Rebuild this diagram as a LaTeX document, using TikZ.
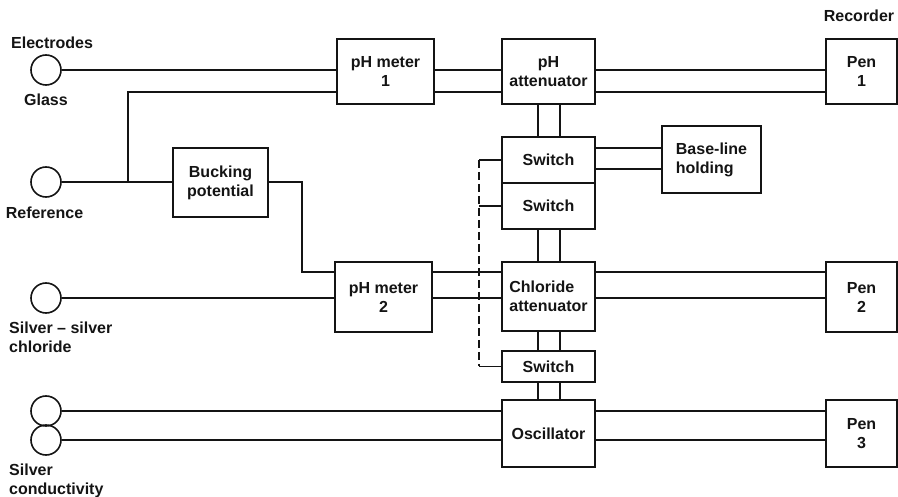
\documentclass[tikz,border=0pt]{standalone}
\usepackage{fontspec}
\setmainfont{Liberation Sans}
\usetikzlibrary{positioning}
\tikzstyle{diagram} = [x = 1pt, y = -1pt]
\definecolor{inkColor}{RGB}{20,20,20}
\tikzstyle{boxStyle} = [draw=inkColor, line width=1.8pt, inner sep=0pt, align=center, text=inkColor, font=\fontsize{16}{19}\selectfont\bfseries]
\tikzstyle{wireLine} = [color=inkColor, line width=1.4pt]
\tikzstyle{gangLine} = [wireLine, dash pattern=on 8pt off 4pt]
\tikzstyle{electrodeStyle} = [circle, draw=inkColor, line width=1.6pt, minimum size=30pt, inner sep=0pt]
\tikzstyle{labelText} = [text=inkColor, inner sep=0pt, align=left, font=\fontsize{16}{19}\selectfont\bfseries]
\newcommand{\unitBox}[6]{\node [boxStyle, minimum width=#4pt, minimum height=#5pt] (#1) at (#2,#3) {#6};}
\newcommand{\wirePair}[4]{\draw [wireLine] (#1.east |- #3) -- (#2.west |- #3); \draw [wireLine] (#1.east |- #4) -- (#2.west |- #4);}
\newcommand{\linkPair}[2]{\draw [wireLine] (#1.south -| colA) -- (#2.north -| colA); \draw [wireLine] (#1.south -| colB) -- (#2.north -| colB);}
\begin{document}
\begin{tikzpicture}[diagram]
\useasboundingbox (0,0) rectangle (898,497);
% wire rows and columns
\coordinate (rowA) at (0,70);
\coordinate (rowB) at (0,92);
\coordinate (rowC) at (0,148);
\coordinate (rowD) at (0,169);
\coordinate (rowF) at (0,272);
\coordinate (rowG) at (0,298);
\coordinate (rowH) at (0,411);
\coordinate (rowI) at (0,440);
\coordinate (colA) at (538,0);
\coordinate (colB) at (560,0);
% electrodes
\node [electrodeStyle] (glass) at (46,70) {};
\node [electrodeStyle] (reference) at (46,182) {};
\node [electrodeStyle] (silverChloride) at (46,298) {};
\node [electrodeStyle] (condOne) at (46,411) {};
\node [electrodeStyle] (condTwo) at (46,440) {};
\node [labelText, anchor=west] (electrodesLabel) at (11,43) {Electrodes};
\node [labelText] (glassLabel) at (46,100) {Glass};
\node [labelText] (referenceLabel) at (44.5,213) {Reference};
\node [labelText, anchor=west] (silverChlorideLabel) at (9,337) {Silver -- silver\\chloride};
\node [labelText, anchor=west] (conductivityLabel) at (9,481) {Silver\\conductivity};
\node [labelText] (recorderLabel) at (859,16) {Recorder};
% units
\unitBox{phMeterOne}{385.5}{71.5}{97}{65}{pH meter\\1}
\unitBox{phAtt}{548.5}{71.5}{93}{65}{pH\\attenuator}
\unitBox{penOne}{861.5}{71.5}{71}{65}{Pen\\1}
\unitBox{bucking}{220.5}{182.5}{95}{69}{Bucking\\potential}
\unitBox{switchOne}{548.5}{160}{93}{46}{Switch}
\unitBox{switchTwo}{548.5}{206}{93}{46}{Switch}
\node [boxStyle, minimum width=99pt, minimum height=67pt, align=left] (baseLine) at (711.5,159.5) {Base-line\\holding};
\unitBox{phMeterTwo}{383.5}{297}{97}{70}{pH meter\\2}
\node [boxStyle, minimum width=93pt, minimum height=69pt, align=left] (chlorAtt) at (548.5,296.5) {Chloride\\attenuator};
\unitBox{penTwo}{861.5}{297}{71}{70}{Pen\\2}
\unitBox{switchThree}{548.5}{366.5}{93}{31}{Switch}
\unitBox{osc}{548.5}{433.5}{93}{67}{Oscillator}
\unitBox{penThree}{861.5}{433.5}{71}{67}{Pen\\3}
% electrode leads
\coordinate (refJoin) at (128,182);
\coordinate (buckTurn) at (302,182);
\draw [wireLine] (glass.east) -- (glass -| phMeterOne.west);
\draw [wireLine] (reference.east) -- (reference -| bucking.west);
\draw [wireLine] (refJoin) |- (phMeterOne.west |- rowB);
\draw [wireLine] (buckTurn -| bucking.east) -- (buckTurn) |- (phMeterTwo.west |- rowF);
\draw [wireLine] (silverChloride.east) -- (silverChloride -| phMeterTwo.west);
\draw [wireLine] (condOne.east) -- (condOne -| osc.west);
\draw [wireLine] (condTwo.east) -- (condTwo -| osc.west);
% signal pairs
\wirePair{phMeterOne}{phAtt}{rowA}{rowB}
\wirePair{phAtt}{penOne}{rowA}{rowB}
\wirePair{switchOne}{baseLine}{rowC}{rowD}
\wirePair{phMeterTwo}{chlorAtt}{rowF}{rowG}
\wirePair{chlorAtt}{penTwo}{rowF}{rowG}
\wirePair{osc}{penThree}{rowH}{rowI}
\linkPair{phAtt}{switchOne}
\linkPair{switchTwo}{chlorAtt}
\linkPair{chlorAtt}{switchThree}
\linkPair{switchThree}{osc}
% ganged switches
\coordinate (gangTop) at (479,160);
\coordinate (gangMid) at (479,206);
\coordinate (gangBottom) at (479,366.5);
\draw [gangLine] (gangTop) -- (gangBottom);
\draw [wireLine] (gangTop) -- (switchOne.west);
\draw [wireLine] (gangMid) -- (switchTwo.west);
\draw [wireLine] (gangBottom) -- (switchThree.west);
\end{tikzpicture}
\end{document}
